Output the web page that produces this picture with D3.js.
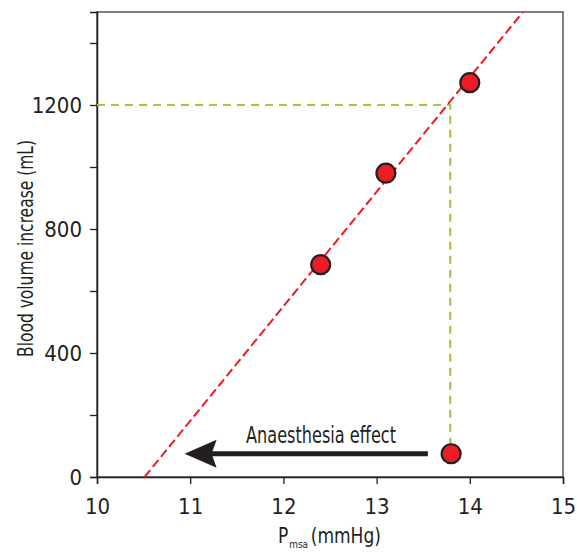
<!DOCTYPE html>
<html><head><meta charset="utf-8">
<script src="https://cdn.jsdelivr.net/npm/d3@7"></script>
<style>body{margin:0;background:#fff}svg{display:block}
text{font-family:"Liberation Sans Narrow","DejaVu Sans Condensed",sans-serif;fill:#231f20}</style>
</head><body>
<script>
const xTicks = [10, 11, 12, 13, 14, 15];
const yTicks = [0, 400, 800, 1200];
const yMinorTicks = [200, 600, 1000, 1400];
const pointsX = [12.4, 13.1, 14.0, 13.8];
const pointsY = [685, 980, 1272, 75];
const fitLineX = [10.51, 14.57];
const fitLineY = [0, 1500];
const targetX = 13.79;
const targetY = 1200;
const arrowX = [13.55, 10.94];
const arrowY = [75, 75];
const arrowLabel = "Anaesthesia effect";

const W = 577, H = 552;
const m = {l: 97, r: 14, t: 12, b: 75};
const svg = d3.select("body").append("svg").attr("width", W).attr("height", H);
const x = d3.scaleLinear().domain([10, 15]).range([m.l, W - m.r]);
const y = d3.scaleLinear().domain([0, 1500]).range([H - m.b, m.t]);

// frame
svg.append("rect").attr("x", x(10)).attr("y", y(1500)).attr("width", x(15) - x(10)).attr("height", y(0) - y(1500))
  .attr("fill", "none").attr("stroke", "#555").attr("stroke-width", 1.5);

// axes
svg.append("g").attr("transform", `translate(0,${y(0)})`)
  .call(d3.axisBottom(x).tickValues(xTicks).tickSize(7).tickPadding(14).tickFormat(d3.format("d")));
svg.append("g").attr("transform", `translate(${x(10)},0)`)
  .call(d3.axisLeft(y).tickValues(yTicks).tickSize(7).tickPadding(8).tickFormat(d3.format("d")));
svg.append("g").attr("transform", `translate(${x(10)},0)`)
  .call(d3.axisLeft(y).tickValues(yMinorTicks).tickSize(7).tickFormat(""))
  .call(g => g.select(".domain").remove());
svg.selectAll(".domain").attr("stroke", "#231f20").attr("stroke-width", 1.5);
svg.selectAll(".tick line").attr("stroke", "#231f20").attr("stroke-width", 1.3);
svg.selectAll(".tick text").style("font-size", "22px").attr("fill", "#231f20");

// green dashed guides
svg.append("path")
  .attr("d", `M${x(10)},${y(targetY)}H${x(targetX)}V${y(pointsY[3])}`)
  .attr("fill", "none").attr("stroke", "#9dcb3b").attr("stroke-width", 2.2).attr("stroke-dasharray", "8,6");

// red fit line
svg.append("line")
  .attr("x1", x(fitLineX[0])).attr("y1", y(fitLineY[0]))
  .attr("x2", x(fitLineX[1])).attr("y2", y(fitLineY[1]))
  .attr("stroke", "#ed1c24").attr("stroke-width", 2).attr("stroke-dasharray", "9,4");

// arrow
const ax0 = x(arrowX[0]), ax1 = x(arrowX[1]), ay = y(arrowY[0]);
svg.append("line").attr("x1", ax0).attr("y1", ay).attr("x2", ax1 + 20).attr("y2", ay)
  .attr("stroke", "#231f20").attr("stroke-width", 5);
svg.append("path")
  .attr("d", `M${ax1},${ay}L${ax1 + 32},${ay - 14}L${ax1 + 27},${ay}L${ax1 + 32},${ay + 14}Z`)
  .attr("fill", "#231f20");
svg.append("text").attr("x", 246).attr("y", ay - 11)
  .attr("textLength", 150).attr("lengthAdjust", "spacingAndGlyphs")
  .style("font-size", "23px").text(arrowLabel);

// points
svg.selectAll("circle.pt").data(pointsX.map((d, i) => [d, pointsY[i]])).join("circle")
  .attr("class", "pt").attr("cx", d => x(d[0])).attr("cy", d => y(d[1])).attr("r", 9.5)
  .attr("fill", "#ed1c24").attr("stroke", "#231f20").attr("stroke-width", 2.2);

// axis labels
svg.append("text").attr("transform", `translate(33,357) rotate(-90)`)
  .attr("textLength", 217).attr("lengthAdjust", "spacingAndGlyphs")
  .style("font-size", "21px").text("Blood volume increase (mL)");
const xl = svg.append("text").attr("x", 278).attr("y", 543).style("font-size", "21px");
xl.append("tspan").text("P");
xl.append("tspan").attr("dy", 5).attr("dx", 1).style("font-size", "11px").text("msa");
xl.append("tspan").attr("dy", -5).attr("dx", 3).text("(mmHg)");
// compress x label horizontally to match condensed look
const bb = xl.node().getBBox();
const sx = 103 / bb.width;
xl.attr("transform", `translate(${278 * (1 - sx)},0) scale(${sx},1)`);
</script>
</body></html>
